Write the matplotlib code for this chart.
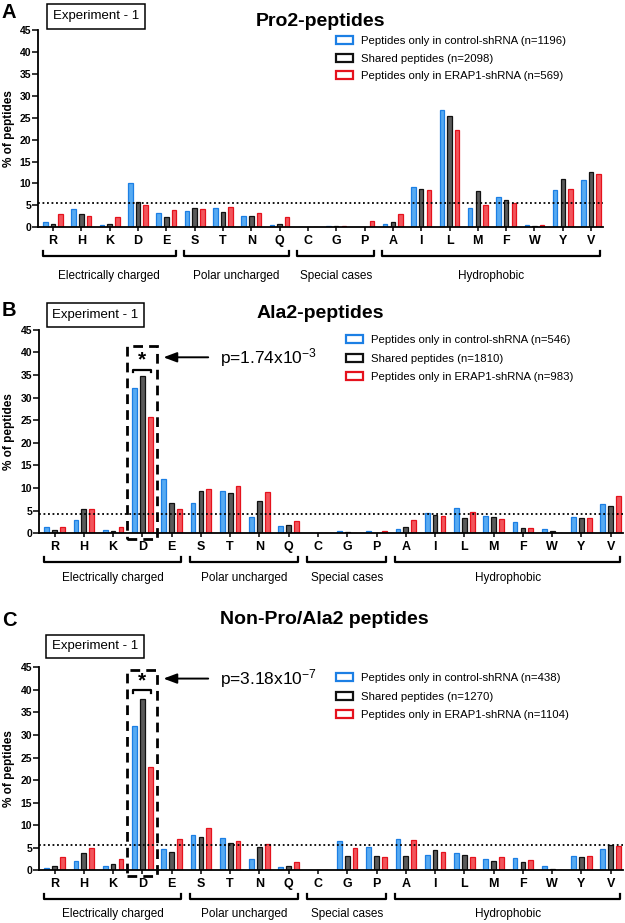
import matplotlib
matplotlib.use('Agg')
import matplotlib.pyplot as plt
import numpy as np
from matplotlib.patches import Rectangle, Patch
from matplotlib.lines import Line2D
from matplotlib.transforms import blended_transform_factory

plt.rcParams['font.family'] = ['Liberation Sans', 'DejaVu Sans']
plt.rcParams['mathtext.default'] = 'regular'

# ---------------- data ----------------
amino = ['R', 'H', 'K', 'D', 'E', 'S', 'T', 'N', 'Q', 'C',
         'G', 'P', 'A', 'I', 'L', 'M', 'F', 'W', 'Y', 'V']
groups = ['Electrically charged', 'Polar uncharged', 'Special cases', 'Hydrophobic']
group_first = [0, 5, 9, 12]
group_last = [4, 8, 11, 19]
series_names = ['Peptides only in control-shRNA', 'Shared peptides',
                'Peptides only in ERAP1-shRNA']

pro2_title = 'Pro2-peptides'
pro2_n = [1196, 2098, 569]
pro2_control = [1.1, 4.1, 0.5, 10.2, 3.3, 3.8, 4.5, 2.6, 0.5, 0.0,
                0.4, 0.0, 0.7, 9.2, 26.8, 4.4, 6.9, 0.5, 8.5, 10.7]
pro2_shared = [0.8, 3.1, 0.8, 5.8, 2.4, 4.3, 3.5, 2.5, 0.8, 0.0,
               0.4, 0.0, 1.3, 8.8, 25.4, 8.3, 6.3, 0.2, 11.0, 12.5]
pro2_erap1 = [3.0, 2.6, 2.4, 5.2, 4.0, 4.2, 4.7, 3.2, 2.4, 0.0,
              0.2, 1.4, 3.1, 8.6, 22.2, 5.1, 5.6, 0.6, 8.8, 12.1]
pro2_ref = 5.5

ala2_title = 'Ala2-peptides'
ala2_n = [546, 1810, 983]
ala2_control = [1.5, 2.9, 0.7, 32.1, 11.9, 6.7, 9.4, 3.6, 1.6, 0.0,
                0.6, 0.6, 1.0, 4.4, 5.5, 3.8, 2.6, 0.9, 3.7, 6.4]
ala2_shared = [0.7, 5.4, 0.6, 34.7, 6.6, 9.4, 8.8, 7.1, 1.8, 0.0,
               0.3, 0.0, 1.3, 4.0, 3.3, 3.5, 1.2, 0.6, 3.3, 6.0]
ala2_erap1 = [1.3, 5.4, 1.5, 25.8, 5.4, 9.9, 10.4, 9.2, 2.7, 0.0,
              0.0, 0.4, 2.9, 3.8, 4.6, 3.2, 1.1, 0.0, 3.4, 8.3]
ala2_ref = 4.3
ala2_p = '1.74x10$^{-3}$'

other_title = 'Non-Pro/Ala2 peptides'
other_n = [438, 1270, 1104]
other_control = [0.6, 2.1, 1.0, 31.9, 4.7, 7.8, 7.2, 2.4, 0.8, 0.1,
                 6.4, 5.2, 7.0, 3.5, 3.8, 2.5, 2.7, 0.9, 3.2, 4.7]
other_shared = [1.0, 3.8, 1.5, 37.9, 4.0, 7.4, 6.1, 5.2, 1.0, 0.0,
                3.2, 3.2, 3.1, 4.4, 3.5, 2.1, 1.8, 0.3, 3.0, 5.5]
other_erap1 = [2.9, 5.0, 2.4, 22.9, 6.9, 9.3, 6.4, 5.8, 1.9, 0.0,
               5.0, 3.0, 6.7, 4.1, 3.0, 2.9, 2.2, 0.0, 3.1, 5.4]
other_ref = 5.5
other_p = '3.18x10$^{-7}$'

# ---------------- style ----------------
W, H = 625, 923
edge_colors = ['#1c7fe4', '#111111', '#e5121d']
face_colors = ['#56aaf2', '#5a5a5a', '#f2555b']


def fx(x):
    return x / W


def fy(y):
    return 1 - y / H


fig = plt.figure(figsize=(W / 100, H / 100), dpi=100)

panels = [
    dict(letter='A', title=pro2_title, n=pro2_n,
         vals=[pro2_control, pro2_shared, pro2_erap1], ref=pro2_ref, p=None,
         box=(38.3, 603, 30, 227.3), title_xy=(321, 22), letter_y=13,
         exp_box=(47, 4, 98, 25), legend_xy=(336, 36), leg_sp=19, glab=49),
    dict(letter='B', title=ala2_title, n=ala2_n,
         vals=[ala2_control, ala2_shared, ala2_erap1], ref=ala2_ref, p=ala2_p,
         box=(39.3, 623, 329.7, 533.3), title_xy=(320, 313), letter_y=311,
         exp_box=(47, 303, 97, 24), legend_xy=(346, 335), leg_sp=20, glab=45,
         star=(38.9, 36.2, 35.6, 41.3)),
    dict(letter='C', title=other_title, n=other_n,
         vals=[other_control, other_shared, other_erap1], ref=other_ref, p=other_p,
         box=(39.3, 623, 667.3, 870.3), title_xy=(324, 620), letter_y=620,
         exp_box=(46, 635, 98, 23), legend_xy=(336, 673), leg_sp=20, glab=44,
         star=(42.5, 39.9, 39.3, 44.5)),
]

x = np.arange(len(amino))
offsets = [-0.27, 0.0, 0.27]
bar_w = 0.16

for pn in panels:
    l, r, t, b = pn['box']
    ax = fig.add_axes([fx(l), fy(b), fx(r) - fx(l), fy(t) - fy(b)])
    ax_h = b - t
    for k in range(3):
        ax.bar(x + offsets[k], pn['vals'][k], width=bar_w,
               facecolor=face_colors[k], edgecolor=edge_colors[k],
               linewidth=0.9, zorder=2)
    ax.axhline(pn['ref'], color='black', linestyle=(0, (1, 1.5)), linewidth=1.3, zorder=3)
    ax.set_xlim(-0.52, 19.42)
    ax.set_ylim(0, 45)
    ax.set_yticks(np.arange(0, 46, 5))
    ax.set_xticks(x)
    ax.set_xticklabels(amino, fontsize=9, fontweight='bold')
    for lab in ax.get_yticklabels():
        lab.set_fontweight('bold')
        lab.set_fontsize(7.5)
    ax.tick_params(axis='y', length=4, width=1.1, pad=1)
    ax.tick_params(axis='x', length=3, width=1.1, pad=2.5)
    for s in ['top', 'right']:
        ax.spines[s].set_visible(False)
    for s in ['left', 'bottom']:
        ax.spines[s].set_linewidth(1.3)
    ax.set_ylabel('% of peptides', fontsize=8.5, fontweight='bold', labelpad=2)
    ax.yaxis.set_label_coords((15.5 - l) / (r - l), 0.5)

    # group brackets
    trans = blended_transform_factory(ax.transData, ax.transAxes)
    yb = -29 / ax_h
    yt = -24 / ax_h
    yl = -pn['glab'] / ax_h
    for g, i0, i1 in zip(groups, group_first, group_last):
        xa, xb = i0 - 0.37, i1 + 0.33
        ax.add_line(Line2D([xa, xa, xb, xb], [yt, yb, yb, yt], transform=trans,
                           color='black', linewidth=1.6, clip_on=False))
        ax.text((xa + xb) / 2, yl, g, transform=trans, ha='center', va='center',
                fontsize=8.5)

    # legend
    handles = [Patch(facecolor='white', edgecolor=edge_colors[k], linewidth=1.6)
               for k in range(3)]
    labels = [f'{series_names[k]} (n={pn["n"][k]})' for k in range(3)]
    lx, ly = pn['legend_xy']
    ax.legend(handles, labels, loc='upper left',
              bbox_to_anchor=(fx(lx), fy(ly)), bbox_transform=fig.transFigure,
              frameon=False, fontsize=8.2, handlelength=1.5, handleheight=0.7,
              handletextpad=0.7, borderpad=0, borderaxespad=0,
              labelspacing=(pn['leg_sp'] - 11.4 * 1.0) / 11.4)

    # title, letter, experiment box
    tx, ty = pn['title_xy']
    fig.text(fx(tx), fy(ty), pn['title'], fontsize=14, fontweight='bold',
             ha='center', va='center')
    fig.text(fx(2), fy(pn['letter_y']), pn['letter'], fontsize=14.5,
             fontweight='bold', ha='left', va='center')
    ex, ey, ew, eh = pn['exp_box']
    fig.patches.append(Rectangle((fx(ex), fy(ey + eh)), ew / W, eh / H,
                                 transform=fig.transFigure, fill=False,
                                 edgecolor='black', linewidth=1.1))
    fig.text(fx(ex + ew / 2), fy(ey + eh / 2), 'Experiment - 1', fontsize=9.5,
             ha='center', va='center')

    # significance annotation
    if pn['p'] is not None:
        ys, ybr, ytk, ytop = pn['star']
        ax.add_patch(Rectangle((2.49, -1.35), 1.02, ytop + 1.35, fill=False,
                               edgecolor='black', linewidth=2.0,
                               linestyle=(0, (3.5, 2.2)), clip_on=False, zorder=4))
        ax.plot([2.69, 2.69, 3.31, 3.31], [ytk, ybr, ybr, ytk], color='black',
                linewidth=1.6, clip_on=False, zorder=4)
        ax.text(3.0, ys - 0.6, '*', fontsize=15, fontweight='bold',
                ha='center', va='center')
        ax.annotate('', xy=(3.72, ys), xytext=(5.25, ys),
                    arrowprops=dict(arrowstyle='-|>,head_length=0.8,head_width=0.3',
                                    color='black', linewidth=1.4,
                                    shrinkA=0, shrinkB=0))
        ax.text(5.65, ys, 'p=' + pn['p'], fontsize=12.5, ha='left',
                va='center')

fig.savefig('out.png', dpi=100)
